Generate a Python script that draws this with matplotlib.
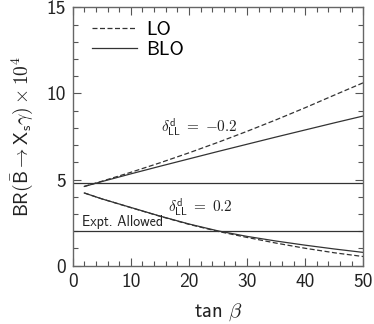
import matplotlib
matplotlib.use("Agg")
import matplotlib.pyplot as plt
from matplotlib.ticker import MultipleLocator

plt.rcParams['mathtext.fontset'] = 'cm'
plt.rcParams['font.family'] = ['cmss10', 'DejaVu Sans']
plt.rcParams['axes.unicode_minus'] = False

tanb = [2, 5, 10, 15, 20, 25, 30, 35, 40, 45, 50]
lo_minus = [4.6, 4.9, 5.42, 5.97, 6.55, 7.16, 7.80, 8.47, 9.17, 9.90, 10.62]
blo_minus = [4.6, 4.88, 5.33, 5.77, 6.2, 6.63, 7.05, 7.47, 7.88, 8.29, 8.69]
lo_plus = [4.22, 3.88, 3.37, 2.87, 2.4, 1.99, 1.64, 1.31, 1.01, 0.75, 0.53]
blo_plus = [4.22, 3.88, 3.38, 2.88, 2.42, 2.02, 1.70, 1.43, 1.19, 0.97, 0.77]
expt_upper = 4.8
expt_lower = 2.0

xticks = [0, 10, 20, 30, 40, 50]
yticks = [0, 5, 10, 15]

col = '#333333'
fig = plt.figure(figsize=(3.74, 3.24), dpi=100)
ax = fig.add_axes([0.1944, 0.180, 0.777, 0.7975])

ax.plot(tanb, lo_minus, ls=(0, (4, 2)), color=col, lw=0.9, label='LO')
ax.plot(tanb, blo_minus, ls='-', color=col, lw=0.9, label='BLO')
ax.plot(tanb, lo_plus, ls=(0, (4, 2)), color=col, lw=0.9)
ax.plot(tanb, blo_plus, ls='-', color=col, lw=0.9)
ax.axhline(expt_upper, color=col, lw=0.9)
ax.axhline(expt_lower, color=col, lw=0.9)

ax.set_xlim(0, 50)
ax.set_ylim(0, 15)
ax.set_xticks(xticks)
ax.set_yticks(yticks)
ax.xaxis.set_minor_locator(MultipleLocator(2))
ax.yaxis.set_minor_locator(MultipleLocator(1))
ax.tick_params(which='both', direction='in', top=True, right=True, colors='#555555',
               labelcolor='#222222', labelsize=14, width=0.8)
ax.tick_params(which='major', length=6, pad=5)
ax.tick_params(which='minor', length=3.5)
for s in ax.spines.values():
    s.set_color('#666666')
    s.set_linewidth(1.0)

ax.set_xlabel(r'$\mathsf{tan}\ \beta$', fontsize=15, color='#222222', labelpad=8)
ax.set_ylabel(r'$\mathsf{BR}(\bar{\mathsf{B}}\rightarrow \mathsf{X}_{\mathsf{s}}\gamma)\times 10^{\mathsf{4}}$',
              fontsize=14, color='#222222', labelpad=8)

ax.text(15.2, 8.0, r'$\delta^{\mathsf{d}}_{\mathsf{LL}}\;=\;{-}\mathsf{0.2}$', fontsize=11, color='#222222',
        ha='left', va='center')
ax.text(16.4, 3.35, r'$\delta^{\mathsf{d}}_{\mathsf{LL}}\;=\;\mathsf{0.2}$', fontsize=11, color='#222222',
        ha='left', va='center')
ax.text(1.6, 2.15, 'Expt. Allowed', fontsize=10, color='#222222', ha='left', va='bottom')

ax.legend(loc='upper left', frameon=False, fontsize=14, handlelength=2.3,
          handletextpad=0.5, borderaxespad=0.3, labelspacing=0.1,
          bbox_to_anchor=(0.02, 1.0))

fig.savefig('out.png', dpi=100)
